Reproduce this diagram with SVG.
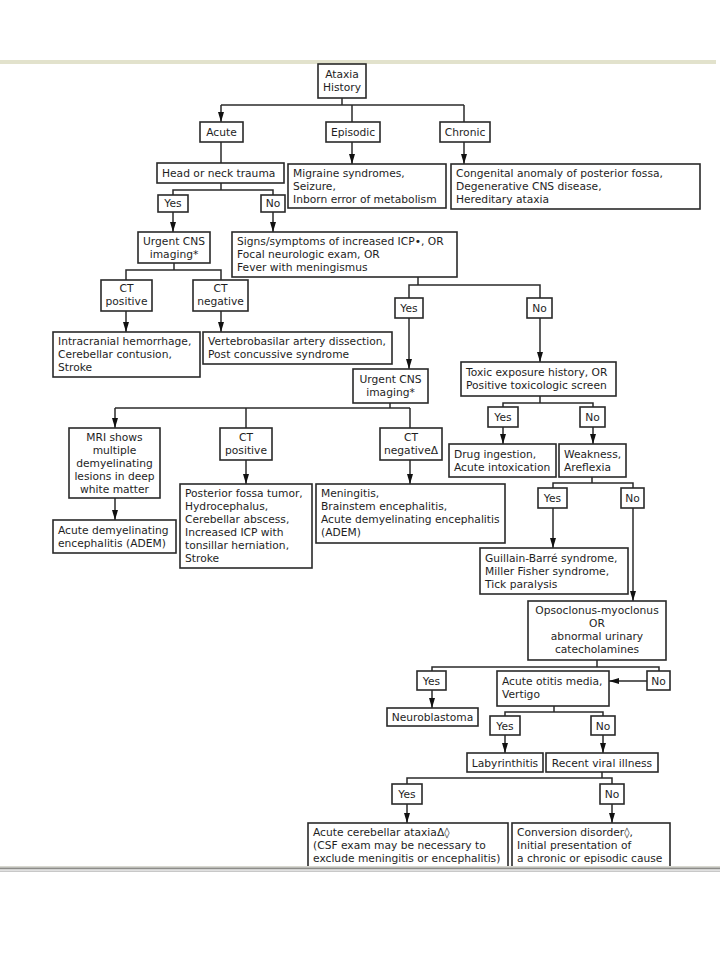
<svg xmlns="http://www.w3.org/2000/svg" width="720" height="960" viewBox="0 0 720 960">
<style>
.b{fill:#fff;stroke:#2a2a2a;stroke-width:1.6}
text{font-family:"DejaVu Sans","Liberation Sans",sans-serif;font-size:10.7px;fill:#1e1e1e}
.c{text-anchor:middle}
#connectors line,#connectors polyline{stroke:#2a2a2a;stroke-width:1.5;fill:none}
.a{marker-end:url(#ah)}
</style>
<defs>
<marker id="ah" viewBox="0 0 10 6" refX="10" refY="3" markerWidth="10" markerHeight="6" orient="auto" markerUnits="userSpaceOnUse"><path d="M0,0 L10,3 L0,6 z" fill="#111"/></marker>
</defs>
<rect width="720" height="960" fill="#fff"/>
<rect x="0" y="60" width="716" height="4" fill="#e2e2cc"/>

<g id="connectors">
<line x1="342" y1="98" x2="342" y2="105"/>
<line x1="221" y1="105" x2="464" y2="105"/>
<line class="a" x1="221" y1="105" x2="221" y2="122"/>
<line class="a" x1="352" y1="105" x2="352" y2="164"/>
<line class="a" x1="464" y1="105" x2="464" y2="164"/>
<line x1="221" y1="142" x2="221" y2="163"/>
<line x1="221" y1="183" x2="221" y2="190"/>
<polyline points="173,195 173,190 273,190 273,195"/>
<line class="a" x1="173" y1="212" x2="173" y2="232"/>
<line class="a" x1="273" y1="212" x2="273" y2="232"/>
<line x1="174" y1="263" x2="174" y2="270"/>
<polyline points="126,280 126,270 221,270 221,280"/>
<line class="a" x1="126" y1="311" x2="126" y2="332"/>
<line class="a" x1="221" y1="311" x2="221" y2="332"/>
<line x1="418" y1="277" x2="418" y2="285"/>
<polyline points="409,298 409,285 540,285 540,298"/>
<line class="a" x1="409" y1="318" x2="409" y2="369"/>
<line class="a" x1="540" y1="318" x2="540" y2="362"/>
<line x1="390" y1="403" x2="390" y2="408"/>
<line x1="115" y1="408" x2="410" y2="408"/>
<line class="a" x1="115" y1="408" x2="115" y2="428"/>
<line x1="246" y1="408" x2="246" y2="428"/>
<line x1="410" y1="408" x2="410" y2="428"/>
<line class="a" x1="115" y1="498" x2="115" y2="520"/>
<line class="a" x1="246" y1="460" x2="246" y2="484"/>
<line class="a" x1="410" y1="460" x2="410" y2="484"/>
<line x1="540" y1="396" x2="540" y2="403"/>
<polyline points="503,407 503,403 593,403 593,407"/>
<line class="a" x1="503" y1="427" x2="503" y2="444"/>
<line class="a" x1="593" y1="427" x2="593" y2="444"/>
<line x1="592" y1="477" x2="592" y2="483"/>
<polyline points="553,488 553,483 633,483 633,488"/>
<line class="a" x1="553" y1="508" x2="553" y2="548"/>
<line class="a" x1="633" y1="508" x2="633" y2="601"/>
<line x1="597" y1="660" x2="597" y2="667"/>
<polyline points="432,671 432,667 659,667 659,671"/>
<line class="a" x1="647" y1="681" x2="609" y2="681"/>
<line class="a" x1="432" y1="690" x2="432" y2="708"/>
<line x1="554" y1="706" x2="554" y2="712"/>
<polyline points="505,716 505,712 603,712 603,716"/>
<line class="a" x1="505" y1="735" x2="505" y2="753"/>
<line class="a" x1="603" y1="735" x2="603" y2="753"/>
<line x1="602" y1="772" x2="602" y2="778"/>
<polyline points="407,784 407,778 612,778 612,784"/>
<line class="a" x1="407" y1="804" x2="407" y2="823"/>
<line class="a" x1="612" y1="804" x2="612" y2="823"/>
</g>

<g id="n-ataxia"><rect class="b" x="318" y="64" width="48" height="34"/><text class="c" x="342" y="78">Ataxia</text><text class="c" x="342" y="91">History</text></g>
<g id="n-acute"><rect class="b" x="200" y="122" width="43" height="20"/><text class="c" x="221.5" y="136">Acute</text></g>
<g id="n-episodic"><rect class="b" x="326" y="122" width="54" height="20"/><text class="c" x="353" y="136">Episodic</text></g>
<g id="n-chronic"><rect class="b" x="440" y="122" width="50" height="20"/><text class="c" x="465" y="136">Chronic</text></g>
<g id="n-head"><rect class="b" x="157" y="163" width="127" height="20"/><text x="162" y="177">Head or neck trauma</text></g>
<g id="n-migraine"><rect class="b" x="288" y="164" width="158" height="44"/><text x="293" y="177">Migraine syndromes,</text><text x="293" y="190">Seizure,</text><text x="293" y="203">Inborn error of metabolism</text></g>
<g id="n-congenital"><rect class="b" x="451" y="164" width="249" height="45"/><text x="456" y="177">Congenital anomaly of posterior fossa,</text><text x="456" y="190">Degenerative CNS disease,</text><text x="456" y="203">Hereditary ataxia</text></g>
<g id="n-yes1"><rect class="b" x="158" y="195" width="30" height="17"/><text class="c" x="173" y="207">Yes</text></g>
<g id="n-no1"><rect class="b" x="261" y="195" width="24" height="17"/><text class="c" x="273" y="207">No</text></g>
<g id="n-urgent1"><rect class="b" x="138" y="232" width="72" height="31"/><text class="c" x="174" y="245">Urgent CNS</text><text class="c" x="174" y="258">imaging*</text></g>
<g id="n-signs"><rect class="b" x="232" y="232" width="225" height="45"/><text x="237" y="245">Signs/symptoms of increased ICP•, OR</text><text x="237" y="258">Focal neurologic exam, OR</text><text x="237" y="271">Fever with meningismus</text></g>
<g id="n-ctpos1"><rect class="b" x="101" y="280" width="51" height="31"/><text class="c" x="126.5" y="292">CT</text><text class="c" x="126.5" y="305">positive</text></g>
<g id="n-ctneg1"><rect class="b" x="193" y="280" width="55" height="31"/><text class="c" x="220.5" y="292">CT</text><text class="c" x="220.5" y="305">negative</text></g>
<g id="n-intracranial"><rect class="b" x="53" y="332" width="147" height="45"/><text x="58" y="345">Intracranial hemorrhage,</text><text x="58" y="358">Cerebellar contusion,</text><text x="58" y="371">Stroke</text></g>
<g id="n-vertebro"><rect class="b" x="203" y="332" width="189" height="32"/><text x="208" y="345">Vertebrobasilar artery dissection,</text><text x="208" y="358">Post concussive syndrome</text></g>
<g id="n-yes2"><rect class="b" x="395" y="298" width="28" height="20"/><text class="c" x="409" y="312">Yes</text></g>
<g id="n-no2"><rect class="b" x="527" y="298" width="25" height="20"/><text class="c" x="539.5" y="312">No</text></g>
<g id="n-urgent2"><rect class="b" x="353" y="369" width="75" height="34"/><text class="c" x="390.5" y="383">Urgent CNS</text><text class="c" x="390.5" y="396">imaging*</text></g>
<g id="n-toxic"><rect class="b" x="461" y="362" width="155" height="34"/><text x="466" y="376">Toxic exposure history, OR</text><text x="466" y="389">Positive toxicologic screen</text></g>
<g id="n-yes3"><rect class="b" x="488" y="407" width="30" height="20"/><text class="c" x="503" y="421">Yes</text></g>
<g id="n-no3"><rect class="b" x="580" y="407" width="25" height="20"/><text class="c" x="592.5" y="421">No</text></g>
<g id="n-drug"><rect class="b" x="449" y="444" width="107" height="33"/><text x="454" y="458">Drug ingestion,</text><text x="454" y="471">Acute intoxication</text></g>
<g id="n-weakness"><rect class="b" x="559" y="444" width="67" height="33"/><text x="564" y="458">Weakness,</text><text x="564" y="471">Areflexia</text></g>
<g id="n-mri"><rect class="b" x="69" y="428" width="91" height="70"/><text class="c" x="114.5" y="441">MRI shows</text><text class="c" x="114.5" y="454">multiple</text><text class="c" x="114.5" y="467">demyelinating</text><text class="c" x="114.5" y="480">lesions in deep</text><text class="c" x="114.5" y="493">white matter</text></g>
<g id="n-ctpos2"><rect class="b" x="220" y="428" width="52" height="32"/><text class="c" x="246" y="441">CT</text><text class="c" x="246" y="454">positive</text></g>
<g id="n-ctneg2"><rect class="b" x="380" y="428" width="62" height="32"/><text class="c" x="411" y="441">CT</text><text class="c" x="411" y="454">negativeΔ</text></g>
<g id="n-adem"><rect class="b" x="53" y="520" width="123" height="33"/><text x="58" y="534">Acute demyelinating</text><text x="58" y="547">encephalitis (ADEM)</text></g>
<g id="n-posterior"><rect class="b" x="180" y="484" width="132" height="84"/><text x="185" y="497">Posterior fossa tumor,</text><text x="185" y="510">Hydrocephalus,</text><text x="185" y="523">Cerebellar abscess,</text><text x="185" y="536">Increased ICP with</text><text x="185" y="549">tonsillar herniation,</text><text x="185" y="562">Stroke</text></g>
<g id="n-meningitis"><rect class="b" x="316" y="484" width="189" height="59"/><text x="321" y="497">Meningitis,</text><text x="321" y="510">Brainstem encephalitis,</text><text x="321" y="523">Acute demyelinating encephalitis</text><text x="321" y="536">(ADEM)</text></g>
<g id="n-yes4"><rect class="b" x="538" y="488" width="29" height="20"/><text class="c" x="552.5" y="502">Yes</text></g>
<g id="n-no4"><rect class="b" x="621" y="488" width="23" height="20"/><text class="c" x="632.5" y="502">No</text></g>
<g id="n-guillain"><rect class="b" x="480" y="548" width="148" height="46"/><text x="485" y="562">Guillain-Barré syndrome,</text><text x="485" y="575">Miller Fisher syndrome,</text><text x="485" y="588">Tick paralysis</text></g>
<g id="n-opso"><rect class="b" x="528" y="601" width="138" height="59"/><text class="c" x="597" y="614">Opsoclonus-myoclonus</text><text class="c" x="597" y="627">OR</text><text class="c" x="597" y="640">abnormal urinary</text><text class="c" x="597" y="653">catecholamines</text></g>
<g id="n-yes5"><rect class="b" x="417" y="671" width="29" height="19"/><text class="c" x="431.5" y="685">Yes</text></g>
<g id="n-otitis"><rect class="b" x="497" y="671" width="112" height="35"/><text x="502" y="685">Acute otitis media,</text><text x="502" y="698">Vertigo</text></g>
<g id="n-no5"><rect class="b" x="647" y="671" width="23" height="19"/><text class="c" x="658.5" y="685">No</text></g>
<g id="n-neuro"><rect class="b" x="387" y="708" width="91" height="18"/><text class="c" x="432.5" y="721">Neuroblastoma</text></g>
<g id="n-yes6"><rect class="b" x="490" y="716" width="30" height="19"/><text class="c" x="505" y="730">Yes</text></g>
<g id="n-no6"><rect class="b" x="591" y="716" width="24" height="19"/><text class="c" x="603" y="730">No</text></g>
<g id="n-laby"><rect class="b" x="467" y="753" width="76" height="19"/><text class="c" x="505" y="767">Labyrinthitis</text></g>
<g id="n-viral"><rect class="b" x="546" y="753" width="112" height="19"/><text class="c" x="602" y="767">Recent viral illness</text></g>
<g id="n-yes7"><rect class="b" x="392" y="784" width="30" height="20"/><text class="c" x="407" y="798">Yes</text></g>
<g id="n-no7"><rect class="b" x="600" y="784" width="24" height="20"/><text class="c" x="612" y="798">No</text></g>
<g id="n-cerebellar"><rect class="b" x="308" y="823" width="200" height="50"/><text x="313" y="836">Acute cerebellar ataxiaΔ◊</text><text x="313" y="849">(CSF exam may be necessary to</text><text x="313" y="862">exclude meningitis or encephalitis)</text></g>
<g id="n-conversion"><rect class="b" x="512" y="823" width="158" height="50"/><text x="517" y="836">Conversion disorder◊,</text><text x="517" y="849">Initial presentation of</text><text x="517" y="862">a chronic or episodic cause</text></g>

<rect x="0" y="866" width="720" height="94" fill="#fff"/>
<rect x="0" y="866" width="720" height="1.5" fill="#d8d8d0"/>
<rect x="0" y="867.5" width="720" height="2" fill="#8c8c88"/>
<rect x="0" y="869.5" width="720" height="1.5" fill="#e0e0e0"/>
<rect x="0" y="871" width="720" height="1" fill="#c8c8c8"/>
</svg>
